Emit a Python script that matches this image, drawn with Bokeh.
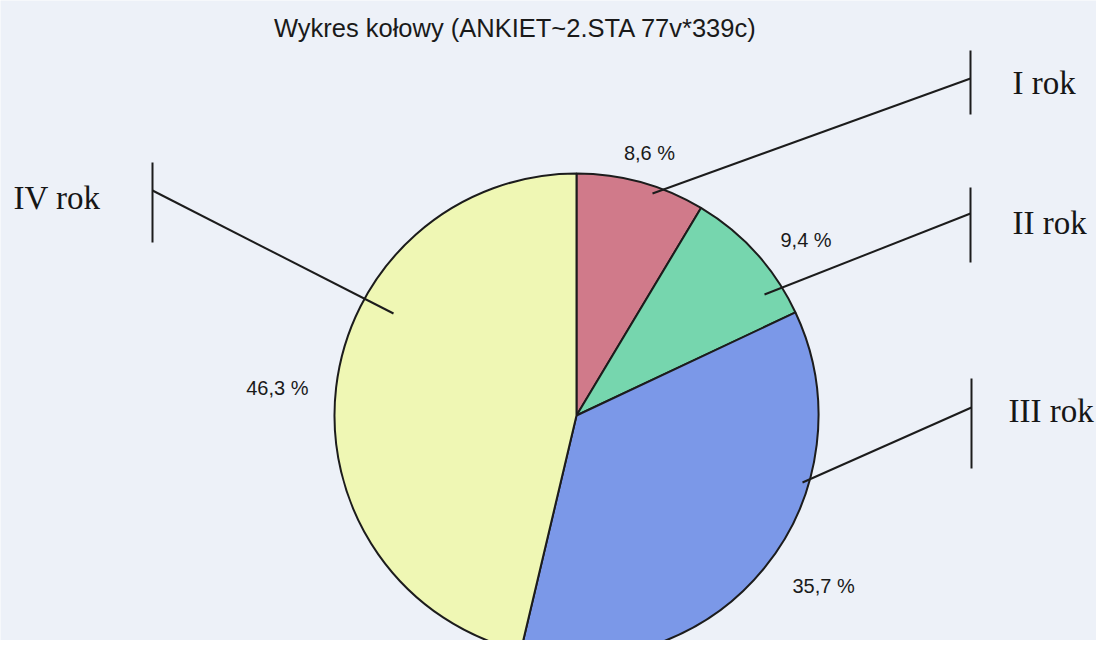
import math
from bokeh.plotting import figure
from bokeh.models import Range1d
from bokeh.core.properties import value
from bokeh.embed import file_html
from bokeh.resources import INLINE

# ---- data ----
title = "Wykres kołowy (ANKIET~2.STA 77v*339c)"
categories = ["I rok", "II rok", "III rok", "IV rok"]
percents = [8.6, 9.4, 35.7, 46.3]
colors = ["#d07a8a", "#76d6ae", "#7b98e8", "#eff7b4"]

# ---- layout (pixel coordinates of the picture, origin top-left) ----
FIG_W, FIG_H = 1096, 640
CX, CY, R = 576, 415, 242
BG = "#edf1f8"

# hand-drawn leader lines: (inner point), (point on bar), bar x, bar top, bar bottom
leaders = [
    ((652, 193), (970, 78), 970, 50, 114),
    ((764, 294), (970, 213), 970, 187, 262),
    ((802, 482), (971, 407), 971, 378, 468),
    ((393, 313), (152, 190), 152, 162, 242),
]
cat_label_pos = [(1012, 82), (1012, 222), (1008, 410), (13, 197)]
pct_label_pos = [(649, 152), (780, 239), (792, 585), (308, 387)]
pct_align = ["center", "left", "left", "right"]


def Y(img_y):
    return FIG_H - img_y


p = figure(width=FIG_W, height=FIG_H,
           x_range=Range1d(0, FIG_W), y_range=Range1d(0, FIG_H),
           output_backend="svg", toolbar_location=None, min_border=0)
p.axis.visible = False
p.grid.visible = False
p.outline_line_color = None
p.background_fill_color = BG
p.border_fill_color = BG

# ---- pie ----
total = sum(percents)
starts, ends = [], []
cum = 0.0
for v in percents:
    starts.append(math.pi / 2 - 2 * math.pi * cum / total)
    cum += v
    ends.append(math.pi / 2 - 2 * math.pi * cum / total)

p.wedge(x=[CX] * 4, y=[Y(CY)] * 4, radius=R, start_angle=starts, end_angle=ends,
        direction="clock", fill_color=colors, line_color="#1c1c1c", line_width=2)

# ---- leader lines and bars ----
p.segment(x0=[l[0][0] for l in leaders], y0=[Y(l[0][1]) for l in leaders],
          x1=[l[1][0] for l in leaders], y1=[Y(l[1][1]) for l in leaders],
          line_color="#1c1c1c", line_width=2)
p.segment(x0=[l[2] for l in leaders], y0=[Y(l[3]) for l in leaders],
          x1=[l[2] for l in leaders], y1=[Y(l[4]) for l in leaders],
          line_color="#1c1c1c", line_width=2)

# ---- category labels ----
p.text(x=[c[0] for c in cat_label_pos], y=[Y(c[1]) for c in cat_label_pos],
       text=categories, text_font=value("Liberation Serif"), text_font_size="33px",
       text_align="left", text_baseline="middle", text_color="#161616")

# ---- percent labels ----
pct_text = [("%.1f" % v).replace(".", ",") + " %" for v in percents]
for (x, y), t, a in zip(pct_label_pos, pct_text, pct_align):
    p.text(x=[x], y=[Y(y)], text=[t], text_font=value("Liberation Sans"),
           text_font_size="20px", text_align=a, text_baseline="middle",
           text_color="#1a1a1a")

# ---- title ----
p.text(x=[515], y=[Y(27)], text=[title], text_font=value("Liberation Sans"),
       text_font_size="25.5px", text_align="center", text_baseline="middle",
       text_color="#1a1a1a")

open("out.html", "w").write(file_html(p, INLINE))
